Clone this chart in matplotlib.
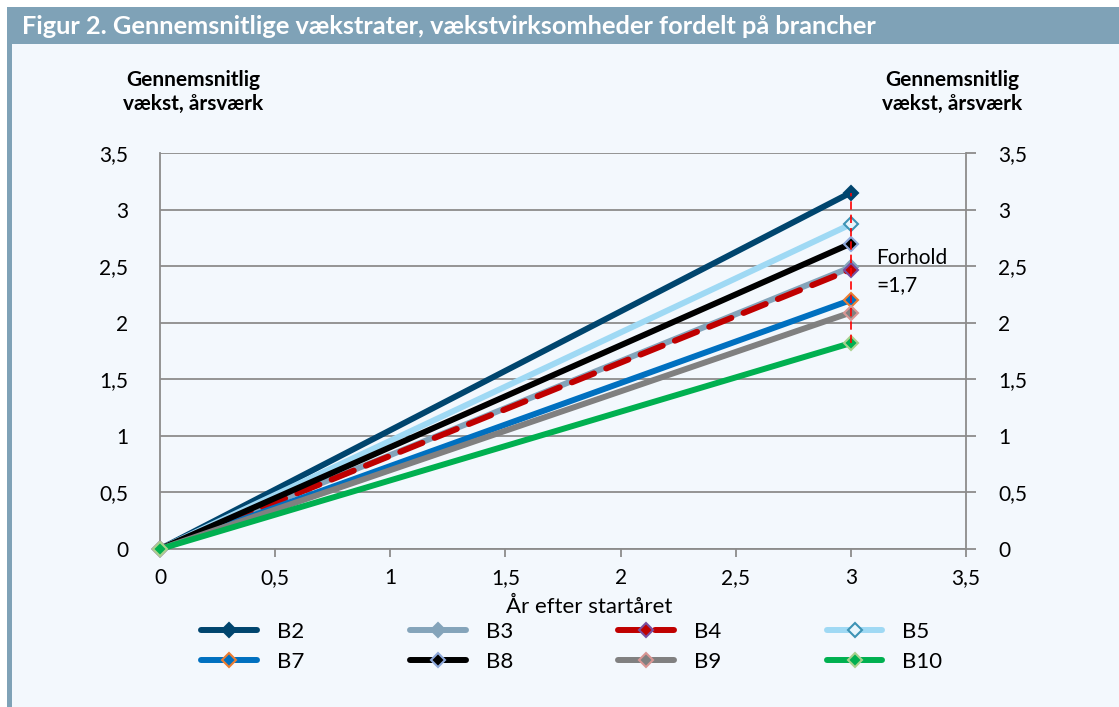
import matplotlib.pyplot as plt
from matplotlib.patches import Rectangle
from matplotlib.ticker import FuncFormatter, MultipleLocator

plt.rcParams["font.family"] = ["Lato", "DejaVu Sans"]

# data: average growth from start year (0) to year 3
years = [0, 3]
series = ["B2", "B3", "B4", "B5", "B7", "B8", "B9", "B10"]
end_values = [3.15, 2.49, 2.47, 2.87, 2.20, 2.70, 2.09, 1.82]
ratio_label = "Forhold\n=1,7"

line_colors = ["#00456e", "#84a4ba", "#c00000", "#9fd9f4", "#0070c0", "#000000", "#808080", "#00b050"]
marker_faces = ["#00456e", "#84a4ba", "#c00000", "#e8f5fc", "#0070c0", "#000000", "#808080", "#00b050"]
marker_edges = ["#00456e", "#84a4ba", "#7a4fa0", "#3d93b5", "#ed7d31", "#8ea9db", "#d99694", "#a9d18e"]
styles = ["-", "-", (0, (4, 2.2)), "-", "-", "-", "-", "-"]

BG = "#f3f8fd"
BAR = "#7fa2b7"


def fmt(v, _pos):
    s = f"{v:g}"
    return s.replace(".", ",")


fig = plt.figure(figsize=(11.19, 7.07), dpi=100, facecolor="white")

# frame: title bar, left stripe and light panel
for rect, col in [((12 / 1119, 0, 1, 1 - 44 / 707), BG),
                  ((7 / 1119, 1 - 44 / 707, 1, 37 / 707), BAR),
                  ((7 / 1119, 0, 5 / 1119, 1 - 7 / 707), BAR)]:
    fig.patches.append(Rectangle(rect[:2], rect[2], rect[3], transform=fig.transFigure,
                                 facecolor=col, edgecolor="none", zorder=-5))
fig.text(22 / 1119, 1 - 27 / 707, "Figur 2. Gennemsnitlige vækstrater, vækstvirksomheder fordelt på brancher",
         color="white", fontsize=18.3, fontweight="bold", va="center", ha="left")

ax = fig.add_axes([160 / 1119, 1 - 549 / 707, 806 / 1119, 396 / 707])
ax.set_facecolor(BG)

lines = []
for name, val, lc, mf, me, ls in zip(series, end_values, line_colors, marker_faces, marker_edges, styles):
    ln, = ax.plot(years, [0, val], color=lc, lw=4.3, ls=ls, marker="D", markersize=7,
                  markerfacecolor=mf, markeredgecolor=me, markeredgewidth=1.5,
                  label=name, solid_capstyle="round", dash_capstyle="round", zorder=3, clip_on=False)
    lines.append(ln)

ax.vlines(years[-1], min(end_values), max(end_values), colors="#ff0000", lw=1.2,
          linestyles=(0, (5, 3)), zorder=4)
ax.text(3.11, 2.45, ratio_label, fontsize=15, va="center", ha="left", linespacing=1.45)

ax.set_xlim(0, 3.5)
ax.set_ylim(0, 3.5)
ax.xaxis.set_major_locator(MultipleLocator(0.5))
ax.yaxis.set_major_locator(MultipleLocator(0.5))
ax.xaxis.set_major_formatter(FuncFormatter(fmt))
ax.yaxis.set_major_formatter(FuncFormatter(fmt))
ax.grid(axis="y", color="#8c8c8c", lw=1.3)
ax.set_axisbelow(True)
ax.spines["top"].set_visible(False)
for side in ["left", "right", "bottom"]:
    ax.spines[side].set_color("#8c8c8c")
    ax.spines[side].set_linewidth(1.3)

ax.tick_params(axis="x", direction="out", length=6, width=1.3, color="#8c8c8c",
               labelsize=15, pad=8)
ax.tick_params(axis="y", left=False, right=True, labelright=True, direction="out",
               length=7, width=1.3, color="#8c8c8c", labelsize=15, pad=16)

ax.set_xlabel("År efter startåret", fontsize=16, labelpad=0)
ax.xaxis.set_label_coords(0.533, -0.12)

for xc in [193, 952]:
    fig.text(xc / 1119, 1 - 92 / 707, "Gennemsnitlig\nvækst, årsværk", fontsize=15,
             fontweight="bold", ha="center", va="center", linespacing=1.25)

# legend in rows (B2..B5 on top), matplotlib fills columns first
order = [0, 4, 1, 5, 2, 6, 3, 7]
ax.legend([lines[i] for i in order], [series[i] for i in order],
          loc="center", bbox_to_anchor=(572 / 1119, 1 - 647 / 707), bbox_transform=fig.transFigure,
          ncol=4, frameon=False, fontsize=16, handlelength=2.5, columnspacing=4.75,
          handletextpad=0.9, labelspacing=0.45)

fig.savefig("out.png", dpi=100, facecolor=fig.get_facecolor())
